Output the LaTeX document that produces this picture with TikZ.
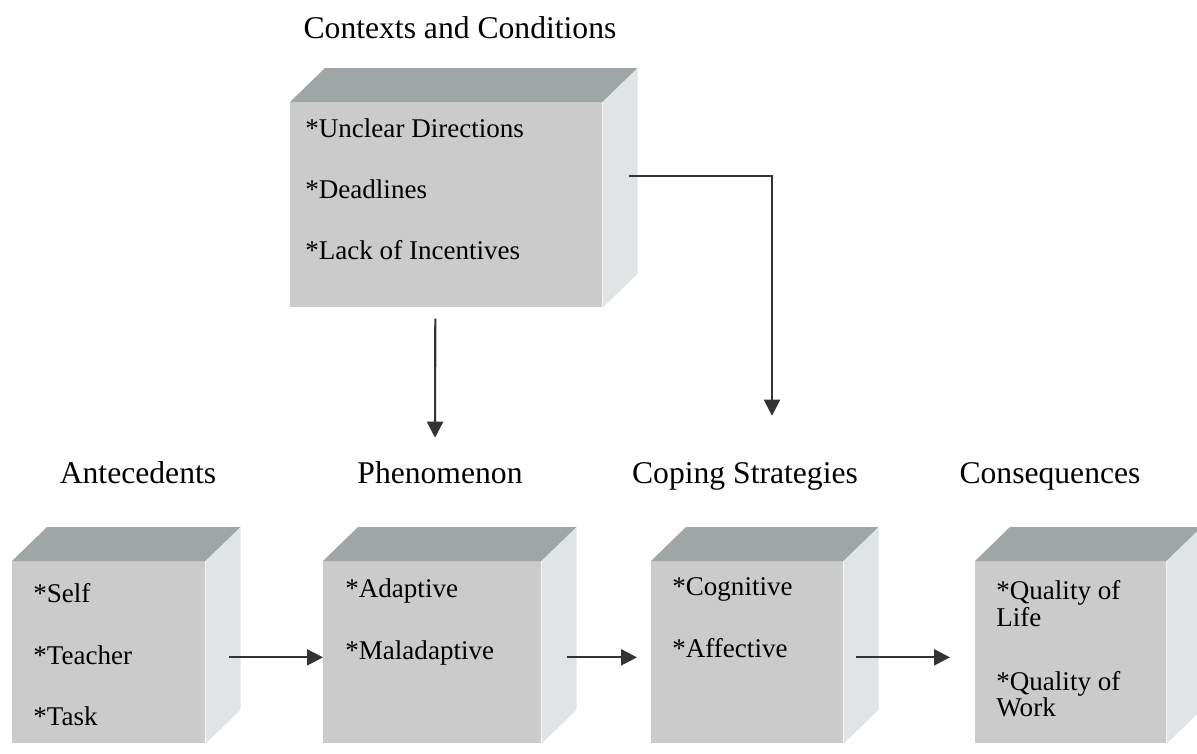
\documentclass[tikz,border=0pt]{standalone}
\usepackage{fontspec}
\setmainfont{Liberation Serif}
\usetikzlibrary{arrows.meta}

\definecolor{facefront}{HTML}{CBCBCB}
\definecolor{facetop}{HTML}{A0A6A5}
\definecolor{faceside}{HTML}{E1E4E5}

\tikzset{
  face/.style={rectangle, fill=facefront, inner sep=0pt, anchor=north west, minimum height=3.64cm},
  title/.style={font=\fontsize{18}{21}\selectfont, inner sep=0pt, anchor=base},
  item/.style={font=\fontsize{15.4}{12.5}\selectfont, inner sep=0pt, anchor=base west, align=left},
  flow/.style={draw=black!80, line width=1.2pt, -{Triangle[length=0.32cm,width=0.32cm]}}
}

\begin{document}
\begin{tikzpicture}[x=0.02cm, y=-0.02cm]
  \useasboundingbox (0,0) rectangle (1197,754);

  % front faces
  \node[face, minimum width=6.24cm, minimum height=4.10cm] (ctx) at (290,102) {};
  \node[face, minimum width=3.86cm] (ante) at (12,561) {};
  \node[face, minimum width=4.36cm] (phen) at (323,561) {};
  \node[face, minimum width=3.84cm] (cope) at (651,561) {};
  \node[face, minimum width=3.82cm] (cons) at (975,561) {};

  % top and side faces
  \foreach \cube in {ctx,ante,phen,cope,cons} {
    \fill[facetop] (\cube.north west) -- ([shift={(35,-34)}]\cube.north west)
      -- ([shift={(35,-34)}]\cube.north east) -- (\cube.north east) -- cycle;
    \fill[faceside] (\cube.north east) -- ([shift={(35,-34)}]\cube.north east)
      -- ([shift={(35,-34)}]\cube.south east) -- (\cube.south east) -- cycle;
  }

  % titles
  \node[title] (ctxtitle) at (460,38) {Contexts and Conditions};
  \node[title] (antetitle) at (138,483) {Antecedents};
  \node[title] (phentitle) at (440,483) {Phenomenon};
  \node[title] (copetitle) at (745,483) {Coping Strategies};
  \node[title] (constitle) at (1050,483) {Consequences};

  % items
  \node[item] (ctxa) at (305,137) {*Unclear Directions};
  \node[item] (ctxb) at (305,198) {*Deadlines};
  \node[item] (ctxc) at (305,259) {*Lack of Incentives};
  \node[item] (antea) at (33,602) {*Self};
  \node[item] (anteb) at (33,664) {*Teacher};
  \node[item] (antec) at (33,725) {*Task};
  \node[item] (phena) at (345,597) {*Adaptive};
  \node[item] (phenb) at (345,659) {*Maladaptive};
  \node[item] (copea) at (672,595) {*Cognitive};
  \node[item] (copeb) at (672,657) {*Affective};
  \node[item, anchor=north west] (consa) at (996,580) {*Quality of\\Life};
  \node[item, anchor=north west] (consb) at (996,671) {*Quality of\\Work};

  % arrows
  \draw[flow] ([shift={(-11,11)}]ctx.south) -- ([shift={(-5,-23)}]phentitle.north);
  \draw[flow] ([shift={(26,-29)}]ctx.east) -| ([shift={(27,-46)}]copetitle.north);
  \draw[flow] ([shift={(23,5)}]ante.east) -- ([shift={(0,5)}]phen.west);
  \draw[flow] ([shift={(25,5)}]phen.east) -- ([shift={(-14,5)}]cope.west);
  \draw[flow] ([shift={(12,5)}]cope.east) -- ([shift={(-25,5)}]cons.west);
\end{tikzpicture}
\end{document}
